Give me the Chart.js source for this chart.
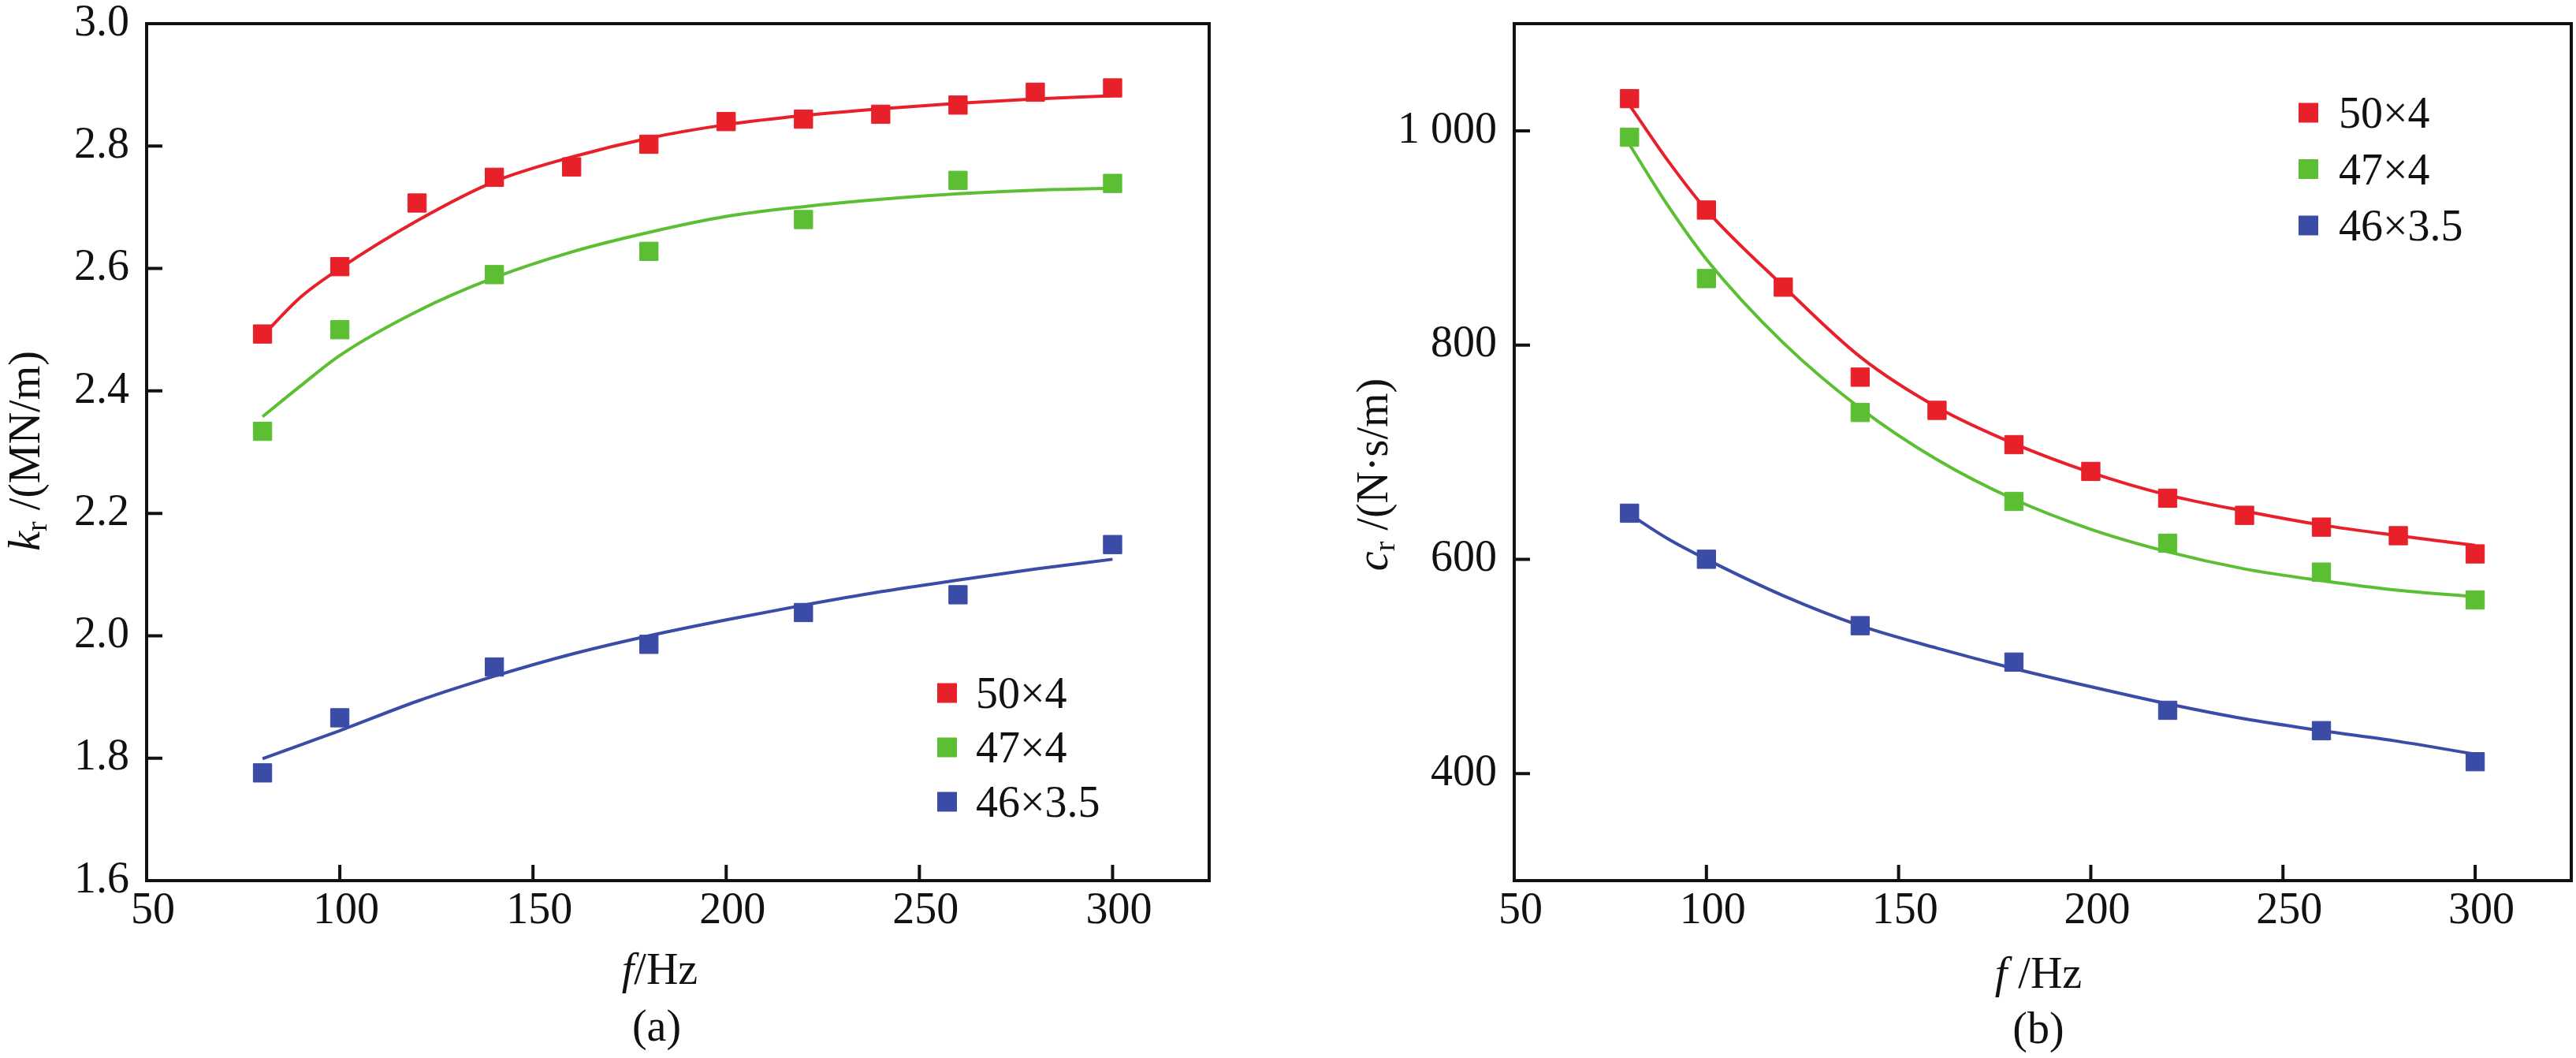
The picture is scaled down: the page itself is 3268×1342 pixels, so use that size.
<!DOCTYPE html>
<html>
<head>
<meta charset="utf-8">
<script src="https://cdn.jsdelivr.net/npm/chart.js@4.4.1/dist/chart.umd.min.js"></script>
<style>
html,body{margin:0;padding:0;background:#ffffff;}
#wrap{position:relative;width:3268px;height:1342px;overflow:hidden;background:#fff;}
canvas{position:absolute;top:0;}
</style>
</head>
<body>
<div id="wrap">
<canvas id="ca" width="1640" height="1342" style="left:0px"></canvas>
<canvas id="cb" width="1628" height="1342" style="left:1640px"></canvas>
</div>
<script>
// ---------- data ----------
const seriesNames = ['50×4', '47×4', '46×3.5'];
const seriesColors = ['#E8202A', '#5CBF33', '#3A4CA6'];

const freqDense = [80, 100, 120, 140, 160, 180, 200, 220, 240, 260, 280, 300];
const freqSparse = [80, 100, 140, 180, 220, 260, 300];
const freqFit = [80, 90, 100, 120, 140, 160, 180, 200, 220, 240, 260, 280, 300];

// (a) stiffness k_r, MN/m
const kr50x4 = [2.493, 2.603, 2.707, 2.749, 2.766, 2.803, 2.840, 2.844, 2.852, 2.867, 2.888, 2.895];
const kr47x4 = [2.334, 2.500, 2.590, 2.628, 2.680, 2.744, 2.739];
const kr46x35 = [1.776, 1.866, 1.949, 1.986, 2.038, 2.067, 2.149];
const krFit50x4 = [2.490, 2.554, 2.600, 2.678, 2.742, 2.782, 2.813, 2.835, 2.850, 2.861, 2.870, 2.877, 2.882];
const krFit47x4 = [2.358, 2.409, 2.458, 2.530, 2.585, 2.627, 2.659, 2.685, 2.701, 2.713, 2.722, 2.728, 2.731];
const krFit46x35 = [1.799, 1.822, 1.845, 1.893, 1.934, 1.970, 2.000, 2.026, 2.050, 2.072, 2.091, 2.109, 2.125];

// (b) damping c_r, N·s/m
const cr50x4 = [1030, 926, 854, 770, 739, 707, 682, 657, 641, 630, 622, 605];
const cr47x4 = [994, 862, 737, 654, 615, 588, 562];
const cr46x35 = [643, 600, 538, 504, 459, 440, 411];
const crFit50x4 = [1024, 972, 926, 855, 789, 742, 708, 681, 660, 645, 632, 622, 613];
const crFit47x4 = [987, 930, 880, 802, 741, 693, 656, 628, 607, 591, 580, 571, 565];
const crFit46x35 = [642, 619, 600, 566, 538, 517, 498, 481, 465, 451, 440, 430, 418];

// ticks
const fTickValues = [50, 100, 150, 200, 250, 300];
const fTickLabels = ['50', '100', '150', '200', '250', '300'];
const kTickValues = [1.6, 1.8, 2.0, 2.2, 2.4, 2.6, 2.8, 3.0];
const kTickLabels = ['1.6', '1.8', '2.0', '2.2', '2.4', '2.6', '2.8', '3.0'];
const cTickValues = [400, 600, 800, 1000];
const cTickLabels = ['400', '600', '800', '1 000'];

// ---------- helpers ----------
const FONT = '"Liberation Serif", "Times New Roman", serif';
const FS = 56;

function pts(xs, ys) { return xs.map((x, i) => ({ x: x, y: ys[i] })); }

function buildDatasets(pointSets, pointX, fitSets) {
  const ds = [];
  pointSets.forEach((ys, i) => {
    ds.push({
      type: 'scatter', label: seriesNames[i], data: pts(pointX[i], ys),
      pointStyle: 'rect', pointRadius: 16.5, pointHoverRadius: 16.5,
      backgroundColor: seriesColors[i], borderColor: seriesColors[i], borderWidth: 1,
      order: 0, isMarker: true
    });
  });
  fitSets.forEach((ys, i) => {
    ds.push({
      type: 'line', label: seriesNames[i] + ' fit', data: pts(freqFit, ys),
      borderColor: seriesColors[i], borderWidth: 4, pointRadius: 0,
      cubicInterpolationMode: 'monotone', fill: false, order: 1
    });
  });
  return ds;
}

function drawRich(ctx, segs, cx, baseY) {
  let total = 0;
  segs.forEach(s => {
    s.font = (s.it ? 'italic ' : '') + (s.sub ? 38 : FS) + 'px ' + FONT;
    ctx.font = s.font;
    s.w = ctx.measureText(s.t).width;
    total += s.w;
  });
  let x = cx - total / 2;
  ctx.textAlign = 'left';
  ctx.textBaseline = 'alphabetic';
  segs.forEach(s => {
    ctx.font = s.font;
    ctx.fillText(s.t, x, baseY + (s.sub ? 9 : 0));
    x += s.w;
  });
}

const decor = {
  id: 'decor',
  afterDraw(chart, args, o) {
    const ctx = chart.ctx;
    const a = chart.chartArea;
    const xs = chart.scales.x, ys = chart.scales.y;
    ctx.save();
    ctx.strokeStyle = '#111';
    ctx.lineWidth = 4;
    ctx.lineCap = 'butt';
    // frame
    ctx.strokeRect(a.left, a.top, a.right - a.left, a.bottom - a.top);
    // inward ticks
    ctx.beginPath();
    xs.ticks.forEach(t => {
      const p = xs.getPixelForValue(t.value);
      if (p > a.left + 2 && p < a.right - 2) { ctx.moveTo(p, a.bottom); ctx.lineTo(p, a.bottom - 20); }
    });
    ys.ticks.forEach(t => {
      const p = ys.getPixelForValue(t.value);
      if (p > a.top + 2 && p < a.bottom - 2) { ctx.moveTo(a.left, p); ctx.lineTo(a.left + 20, p); }
    });
    ctx.stroke();
    // legend
    const lg = o.legend;
    chart.data.datasets.filter(d => d.isMarker).forEach((d, i) => {
      const cy = lg.y + i * lg.dy;
      ctx.fillStyle = d.backgroundColor;
      ctx.fillRect(lg.x, cy - 12.5, 25, 25);
      ctx.fillStyle = '#111';
      ctx.font = FS + 'px ' + FONT;
      ctx.textAlign = 'left';
      ctx.textBaseline = 'alphabetic';
      ctx.fillText(d.label, lg.tx, cy + 19);
    });
    // y title (rotated)
    ctx.fillStyle = '#111';
    ctx.save();
    ctx.translate(o.yTitle.x, o.yTitle.cy);
    ctx.rotate(-Math.PI / 2);
    drawRich(ctx, o.yTitle.segs, 0, 0);
    ctx.restore();
    // x title and panel label
    drawRich(ctx, o.xTitle.segs, o.xTitle.cx, o.xTitle.y);
    drawRich(ctx, [{ t: o.panel.t }], o.panel.cx, o.panel.y);
    ctx.restore();
  }
};

function makeScales(yMin, yMax, yVals, yLabels, yWidth) {
  return {
    x: {
      type: 'linear', min: 50, max: 325,
      afterBuildTicks: s => { s.ticks = fTickValues.map(v => ({ value: v })); },
      afterFit: s => { s.height = 225; s.paddingLeft = 0; s.paddingRight = 0; },
      ticks: {
        autoSkip: false, maxRotation: 0, minRotation: 0, padding: 6, labelOffset: 8,
        color: '#111', font: { family: FONT, size: FS },
        callback: (v, i) => fTickLabels[i]
      },
      grid: { display: false, drawTicks: false },
      border: { display: false }
    },
    y: {
      type: 'linear', min: yMin, max: yMax,
      afterBuildTicks: s => { s.ticks = yVals.map(v => ({ value: v })); },
      afterFit: s => { s.width = yWidth; s.paddingTop = 0; s.paddingBottom = 0; },
      ticks: {
        autoSkip: false, padding: 22,
        color: '#111', font: { family: FONT, size: FS },
        callback: (v, i) => yLabels[i]
      },
      grid: { display: false, drawTicks: false },
      border: { display: false }
    }
  };
}

const common = {
  responsive: false,
  animation: false,
  events: []
};

new Chart(document.getElementById('ca'), {
  type: 'scatter',
  data: {
    datasets: buildDatasets([kr50x4, kr47x4, kr46x35], [freqDense, freqSparse, freqSparse],
                            [krFit50x4, krFit47x4, krFit46x35])
  },
  options: Object.assign({}, common, {
    layout: { autoPadding: false, padding: { left: 0, top: 30, right: 1640 - 1534, bottom: 0 } },
    scales: makeScales(1.6, 3.0, kTickValues, kTickLabels, 186),
    plugins: {
      legend: { display: false }, tooltip: { enabled: false },
      decor: {
        legend: { x: 1189, tx: 1238, y: 879, dy: 69 },
        yTitle: { x: 50, cy: 572, segs: [{ t: 'k', it: true }, { t: 'r', sub: true }, { t: ' /(MN/m)' }] },
        xTitle: { cx: 837, y: 1248, segs: [{ t: 'f', it: true }, { t: '/Hz' }] },
        panel: { t: '(a)', cx: 833, y: 1320 }
      }
    }
  }),
  plugins: [decor]
});

new Chart(document.getElementById('cb'), {
  type: 'scatter',
  data: {
    datasets: buildDatasets([cr50x4, cr47x4, cr46x35], [freqDense, freqSparse, freqSparse],
                            [crFit50x4, crFit47x4, crFit46x35])
  },
  options: Object.assign({}, common, {
    layout: { autoPadding: false, padding: { left: 0, top: 30, right: 1628 - 1622, bottom: 0 } },
    scales: makeScales(300, 1100, cTickValues, cTickLabels, 281),
    plugins: {
      legend: { display: false }, tooltip: { enabled: false },
      decor: {
        legend: { x: 1276, tx: 1327, y: 143, dy: 71.5 },
        yTitle: { x: 120, cy: 602, segs: [{ t: 'c', it: true }, { t: 'r', sub: true }, { t: ' /(N·s/m)' }] },
        xTitle: { cx: 946, y: 1253, segs: [{ t: 'f', it: true }, { t: ' /Hz' }] },
        panel: { t: '(b)', cx: 946, y: 1323 }
      }
    }
  }),
  plugins: [decor]
});
</script>
</body>
</html>
